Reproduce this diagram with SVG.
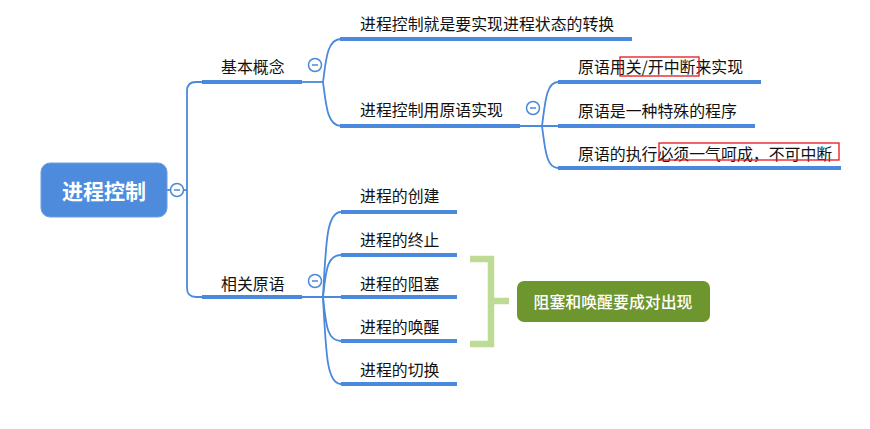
<svg xmlns="http://www.w3.org/2000/svg" width="870" height="429" viewBox="0 0 870 429">
<style>
.bar{stroke:#4a89dc;stroke-width:4;fill:none}
.con{stroke:#4a89dc;stroke-width:1.8;fill:none}
.lbl{font-family:"Noto Sans CJK SC","Noto Sans",sans-serif;font-size:15.9px;fill:#111;dominant-baseline:central}
.tog circle{fill:#fff;stroke:#4a89dc;stroke-width:1.5}
.tog line{stroke:#4a89dc;stroke-width:1.5}
.hl{fill:none;stroke:#e8141a;stroke-width:1.3}
</style>
<rect width="870" height="429" fill="#fff"/>
<g id="connectors">
  <line class="con" x1="167" y1="190" x2="187" y2="190"/>
  <path class="con" d="M202,82 H196 Q187,82 187,91 V288 Q187,297 196,297 H202"/>
  <line class="con" x1="300" y1="82" x2="323" y2="82"/>
  <path class="con" d="M323,82 C326,60 327,39 341,39"/>
  <path class="con" d="M323,82 C326,104 327,126 341,126"/>
  <line class="con" x1="518" y1="126" x2="558" y2="126"/>
  <path class="con" d="M542,126 C545,104 546,82 558,82"/>
  <path class="con" d="M542,126 C545,148 546,168 558,168"/>
  <line class="con" x1="300" y1="297" x2="341" y2="297"/>
  <path class="con" d="M323,297 C326,240 327,212 341,212"/>
  <path class="con" d="M323,297 C326,270 327,255 341,255"/>
  <path class="con" d="M323,297 C326,325 327,341 341,341"/>
  <path class="con" d="M323,297 C326,355 327,384 341,384"/>
</g>
<g id="root">
  <rect x="41" y="163" width="126" height="54" rx="9" fill="#4e8bdc" stroke="#6a9de3" stroke-width="1"/>
  <text x="104" y="190" text-anchor="middle" font-family="Noto Sans CJK SC, sans-serif" font-size="21" font-weight="bold" fill="#fff" dominant-baseline="central">进程控制</text>
  <g class="tog"><circle cx="177" cy="190" r="6.5"/><line x1="174" y1="190" x2="180" y2="190"/></g>
</g>
<g id="n-jiben">
  <line class="bar" x1="202" y1="82" x2="302" y2="82"/>
  <text class="lbl" x="221" y="66">基本概念</text>
  <g class="tog"><circle cx="315" cy="65" r="6.5"/><line x1="312" y1="65" x2="318" y2="65"/></g>
</g>
<g id="n-t1">
  <line class="bar" x1="340" y1="39" x2="632" y2="39"/>
  <text class="lbl" x="360" y="23">进程控制就是要实现进程状态的转换</text>
</g>
<g id="n-t2">
  <line class="bar" x1="340" y1="126" x2="520" y2="126"/>
  <text class="lbl" x="360" y="109">进程控制用原语实现</text>
  <g class="tog"><circle cx="533" cy="108" r="6.5"/><line x1="530" y1="108" x2="536" y2="108"/></g>
</g>
<g id="n-s1">
  <line class="bar" x1="558" y1="82" x2="761" y2="82"/>
  <text class="lbl" x="578" y="66">原语用关/开中断来实现</text>
  <rect class="hl" x="620" y="57" width="79" height="19"/>
</g>
<g id="n-s2">
  <line class="bar" x1="558" y1="126" x2="755" y2="126"/>
  <text class="lbl" x="578" y="110">原语是一种特殊的程序</text>
</g>
<g id="n-s3">
  <line class="bar" x1="558" y1="168" x2="841" y2="168"/>
  <text class="lbl" x="578" y="153">原语的执行必须一气呵成，不可中断</text>
  <rect class="hl" x="659" y="143" width="180" height="17"/>
</g>
<g id="n-xiangguan">
  <line class="bar" x1="202" y1="297" x2="302" y2="297"/>
  <text class="lbl" x="221" y="283">相关原语</text>
  <g class="tog"><circle cx="315" cy="281" r="6.5"/><line x1="312" y1="281" x2="318" y2="281"/></g>
</g>
<g id="n-b1">
  <line class="bar" x1="341" y1="212" x2="457" y2="212"/>
  <text class="lbl" x="360" y="195">进程的创建</text>
</g>
<g id="n-b2">
  <line class="bar" x1="341" y1="255" x2="457" y2="255"/>
  <text class="lbl" x="360" y="239">进程的终止</text>
</g>
<g id="n-b3">
  <line class="bar" x1="341" y1="297" x2="457" y2="297"/>
  <text class="lbl" x="360" y="283">进程的阻塞</text>
</g>
<g id="n-b4">
  <line class="bar" x1="341" y1="341" x2="457" y2="341"/>
  <text class="lbl" x="360" y="326">进程的唤醒</text>
</g>
<g id="n-b5">
  <line class="bar" x1="341" y1="384" x2="457" y2="384"/>
  <text class="lbl" x="360" y="369">进程的切换</text>
</g>
<g id="summary">
  <path d="M470,259 H491 V344 H470 M491,301 H509" fill="none" stroke="#bedb95" stroke-width="6.5"/>
  <rect x="517" y="281" width="193" height="41" rx="7" fill="#6e962e"/>
  <text x="613" y="301.5" text-anchor="middle" font-family="Noto Sans CJK SC, sans-serif" font-size="15.9" font-weight="500" fill="#fff" dominant-baseline="central">阻塞和唤醒要成对出现</text>
</g>
</svg>
